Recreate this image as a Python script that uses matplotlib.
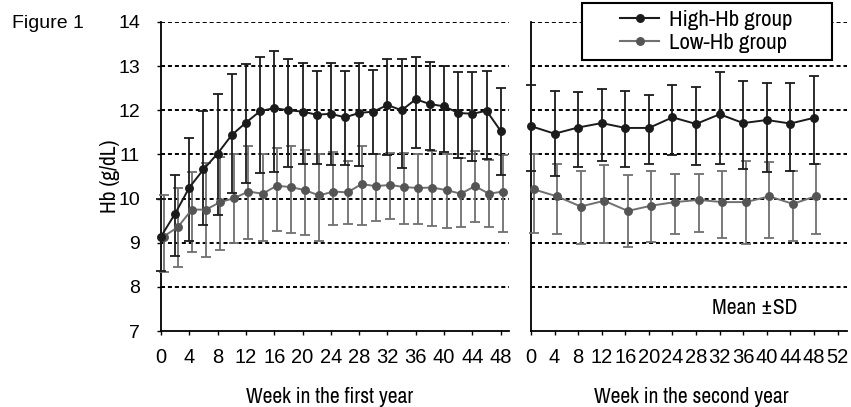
import matplotlib
matplotlib.use("Agg")
import matplotlib.pyplot as plt
import matplotlib.transforms as mtransforms
from matplotlib.lines import Line2D
from matplotlib.patches import Rectangle
import numpy as np

plt.rcParams['font.family'] = ['Liberation Sans', 'DejaVu Sans']
plt.rcParams['lines.scale_dashes'] = False
REG = ['Liberation Sans', 'DejaVu Sans']
NARROW = ['Archivo Narrow', 'Liberation Sans', 'DejaVu Sans']

# ---------------- data ----------------
weeks_year1 = [0, 2, 4, 6, 8, 10, 12, 14, 16, 18, 20, 22, 24, 26, 28, 30, 32, 34, 36, 38, 40, 42, 44, 46, 48]
high1_mean = [9.14, 9.66, 10.25, 10.66, 11.02, 11.44, 11.72, 11.98, 12.05, 12.0, 11.97, 11.9, 11.92,
              11.84, 11.94, 11.97, 12.12, 12.0, 12.25, 12.14, 12.09, 11.94, 11.92, 11.99, 11.53]
high1_upper = [9.98, 10.54, 11.38, 11.98, 12.37, 12.83, 13.05, 13.2, 13.34, 13.16, 13.08, 12.89, 13.08,
               12.89, 13.08, 12.91, 13.16, 13.17, 13.2, 13.1, 13.0, 12.86, 12.86, 12.88, 12.5]
high1_lower = [8.36, 8.70, 9.03, 9.40, 9.63, 10.12, 10.35, 10.57, 10.61, 10.72, 10.78, 10.78, 10.76,
               10.75, 10.74, 11.0, 10.99, 10.69, 11.14, 11.1, 11.05, 10.91, 10.84, 10.89, 10.54]
low1_mean = [9.14, 9.35, 9.75, 9.75, 9.92, 10.01, 10.16, 10.11, 10.29, 10.26, 10.19, 10.07, 10.16,
             10.14, 10.33, 10.28, 10.31, 10.26, 10.24, 10.25, 10.19, 10.11, 10.28, 10.11, 10.16]
low1_upper = [10.07, 10.24, 10.61, 10.8, 10.95, 11.02, 11.18, 11.02, 11.14, 11.18, 11.1, 11.0, 11.06,
              10.86, 11.18, 11.0, 11.04, 11.04, 11.02, 11.08, 11.02, 10.91, 11.08, 10.87, 10.99]
low1_lower = [8.33, 8.46, 8.78, 8.68, 8.83, 9.0, 9.08, 9.03, 9.27, 9.22, 9.18, 9.03, 9.39,
              9.42, 9.39, 9.5, 9.54, 9.43, 9.43, 9.38, 9.34, 9.35, 9.46, 9.35, 9.24]

weeks_year2 = [0, 4, 8, 12, 16, 20, 24, 28, 32, 36, 40, 44, 48]
high2_mean = [11.64, 11.47, 11.61, 11.71, 11.6, 11.6, 11.84, 11.69, 11.91, 11.71, 11.78, 11.7, 11.83]
high2_upper = [12.58, 12.43, 12.42, 12.48, 12.43, 12.35, 12.57, 12.53, 12.86, 12.67, 12.62, 12.62, 12.77]
high2_lower = [10.62, 10.51, 10.71, 10.85, 10.71, 10.79, 10.98, 10.75, 10.79, 10.66, 10.61, 10.62, 10.79]
low2_mean = [10.21, 10.05, 9.82, 9.95, 9.72, 9.84, 9.92, 9.97, 9.92, 9.92, 10.05, 9.88, 10.06]
low2_upper = [11.01, 10.79, 10.62, 10.76, 10.54, 10.62, 10.55, 10.55, 10.62, 10.84, 10.82, 10.62, 10.78]
low2_lower = [9.23, 9.2, 8.96, 9.0, 8.9, 9.02, 9.2, 9.24, 9.11, 8.96, 9.1, 9.03, 9.2]

xticks_year1 = [0, 4, 8, 12, 16, 20, 24, 28, 32, 36, 40, 44, 48]
xticks_year2 = [0, 4, 8, 12, 16, 20, 24, 28, 32, 36, 40, 44, 48, 52]
yticks = [7, 8, 9, 10, 11, 12, 13, 14]
series_labels = ['High-Hb group', 'Low-Hb group']

# ---------------- style ----------------
W, H = 851, 407
HIGH_C = '#1b1b1b'
LOW_MARK = '#555555'
LOW_LINE = '#707070'

fig = plt.figure(figsize=(W / 100, H / 100), dpi=100)
y_bot = 1 - 331 / H
ax_h = 309 / H
axL = fig.add_axes([161 / W, y_bot, 347.5 / W, ax_h])
axR = fig.add_axes([531 / W, y_bot, 316 / W, ax_h])


def series(ax, x, mean, lo, hi, line_c, mark_c, dx):
    mean = np.asarray(mean)
    yerr = [mean - np.asarray(lo), np.asarray(hi) - mean]
    tr = mtransforms.offset_copy(ax.transData, fig=fig, x=dx, y=0, units='dots')
    cont = ax.errorbar(x, mean, yerr=yerr, fmt='-o', color=line_c, mfc=mark_c, mec=mark_c,
                       ms=5.4, lw=1.4, elinewidth=1.3, capsize=3.6, capthick=1.3,
                       transform=tr, zorder=3)
    line, caps, bars = cont
    line.set_clip_on(False)
    line.set_transform(tr)
    for c in caps:
        c.set_clip_on(False)
        c.set_transform(tr)
    for b in bars:
        b.set_clip_on(False)
        b.set_transform(tr)
    return cont


for ax, xmax in ((axL, 49.1), (axR, 53.6)):
    ax.set_xlim(0, xmax)
    ax.set_ylim(7, 14)
    for yv in yticks[1:]:
        ax.axhline(yv, color='black', lw=1.4, dashes=(2.9, 2.1), zorder=1)
    ax.spines['top'].set_visible(False)
    ax.spines['right'].set_visible(False)
    for s in ('left', 'bottom'):
        ax.spines[s].set_linewidth(1.3)
        ax.spines[s].set_color('black')
        ax.spines[s].set_zorder(2)
    ax.set_facecolor('none')

series(axL, weeks_year1, low1_mean, low1_lower, low1_upper, LOW_LINE, LOW_MARK, 2.5)
series(axL, weeks_year1, high1_mean, high1_lower, high1_upper, HIGH_C, HIGH_C, 0)
series(axR, weeks_year2, low2_mean, low2_lower, low2_upper, LOW_LINE, LOW_MARK, 2.5)
series(axR, weeks_year2, high2_mean, high2_lower, high2_upper, HIGH_C, HIGH_C, 0)

axL.set_yticks(yticks)
axL.set_yticklabels([str(v) for v in yticks], fontsize=14, family=REG)
axL.tick_params(axis='y', direction='out', length=3, width=1, pad=12)
axR.set_yticks([])

axL.set_xticks(xticks_year1)
axL.set_xticklabels([str(v) for v in xticks_year1], fontsize=14.5, family=REG)
axR.set_xticks(xticks_year2)
axR.set_xticklabels([str(v) for v in xticks_year2], fontsize=14.5, family=REG)
for ax in (axL, axR):
    ax.tick_params(axis='x', direction='out', length=3, width=1, pad=9)

# axis labels / texts
fig.text(330 / W, 1 - 397 / H, 'Week in the first year', ha='center', va='center', fontsize=15.5, family=NARROW)
fig.text(691 / W, 1 - 397 / H, 'Week in the second year', ha='center', va='center', fontsize=15.5, family=NARROW)
fig.text(110 / W, 1 - 176 / H, 'Hb (g/dL)', ha='center', va='center', rotation=90, fontsize=15.5,
         family=NARROW)
fig.text(12 / W, 1 - 24 / H, 'Figure 1', ha='left', va='center', fontsize=14, family=REG)
fig.text(755 / W, 1 - 308 / H, 'Mean \u00b1SD', ha='center', va='center', fontsize=15.5, family=NARROW)

# legend box
bx0, bx1, by0, by1 = 581.5, 831.5, 3.5, 59.5
rect = Rectangle((bx0 / W, 1 - by1 / H), (bx1 - bx0) / W, (by1 - by0) / H,
                 transform=fig.transFigure, facecolor='white', edgecolor='black', lw=1.5, zorder=10)
fig.patches.append(rect)
handles = [Line2D([], [], color=HIGH_C, marker='o', ms=5.4, lw=1.5),
           Line2D([], [], color=LOW_LINE, marker='o', mfc=LOW_MARK, mec=LOW_MARK, ms=5.4, lw=1.5)]
leg = fig.legend(handles, series_labels, loc='center',
                 bbox_to_anchor=((bx0 + bx1) / 2 / W, 1 - (by0 + by1) / 2 / H),
                 frameon=False, prop={'family': NARROW, 'size': 16.5}, handlelength=1.7,
                 handletextpad=0.45, labelspacing=0.1, borderpad=0.0)
leg.set_zorder(11)

fig.savefig('out.png', dpi=100)
